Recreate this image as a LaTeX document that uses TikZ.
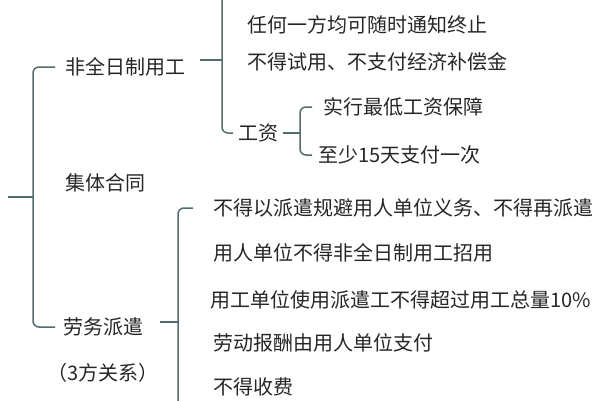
\documentclass[tikz,border=0pt]{standalone}
\usepackage{fontspec}
\setmainfont{Noto Sans CJK SC}

\begin{document}
\begin{tikzpicture}[x=1pt, y=-1pt,
    item/.style={anchor=west, inner sep=0pt, text=black!85,
      font=\fontsize{20}{24}\selectfont},
    brk/.style={draw=black!45!teal!35!gray, line width=1.5pt, rounded corners=6pt}]
  \useasboundingbox (0,0) rectangle (600,400);
  \clip (0,0) rectangle (600,400);

  % first level
  \node [item](fq) at (65,67) {非全日制用工};
  \node [item](jt) at (65,183) {集体合同};
  \node [item](lw) at (63,327) {劳务派遣};
  \node [item](sf) at (47,373) {（3方关系）};

  % 非全日制用工
  \node [item](r1) at (247,25) {任何一方均可随时通知终止};
  \node [item](r2) at (247,62) {不得试用、不支付经济补偿金};
  \node [item](gz) at (238,133) {工资};
  \node [item](w1) at (323,107) {实行最低工资保障};
  \node [item](w2) at (318,155) {至少15天支付一次};

  % 劳务派遣
  \node [item](d1) at (213,208) {不得以派遣规避用人单位义务、不得再派遣};
  \node [item](d2) at (213,253) {用人单位不得非全日制用工招用};
  \node [item](d3) at (210,300) {用工单位使用派遣工不得超过用工总量10\%};
  \node [item](d4) at (213,343) {劳动报酬由用人单位支付};
  \node [item](d5) at (213,387) {不得收费};

  % junctions of the brackets
  \coordinate (root) at (8,197);
  \coordinate (mj) at (33,197);
  \coordinate (fj) at (222,60);
  \coordinate (ftop) at (235,-13);
  \coordinate (gj) at (300,133);
  \coordinate (lj) at (178,322);
  \coordinate (lend) at (178,440);

  \draw [brk] (root) -- (mj);
  \draw [brk] ([xshift=-10pt]fq.west) -| (mj) |- ([xshift=-8pt]lw.west);

  \draw [brk] ([xshift=15pt]fq.east |- fj) -- (fj);
  \draw [brk] (ftop) -| (fj) |- ([xshift=-5pt]gz.west);

  \draw [brk] ([xshift=5pt]gz.east) -- (gj);
  \draw [brk] ([xshift=-11pt]w1.west) -| (gj) |- ([xshift=-6pt]w2.west);

  \draw [brk] ([xshift=17pt]lw.east |- lj) -- (lj);
  \draw [brk] ([xshift=-20pt]d1.west) -| (lj) -- (lend);
\end{tikzpicture}
\end{document}
